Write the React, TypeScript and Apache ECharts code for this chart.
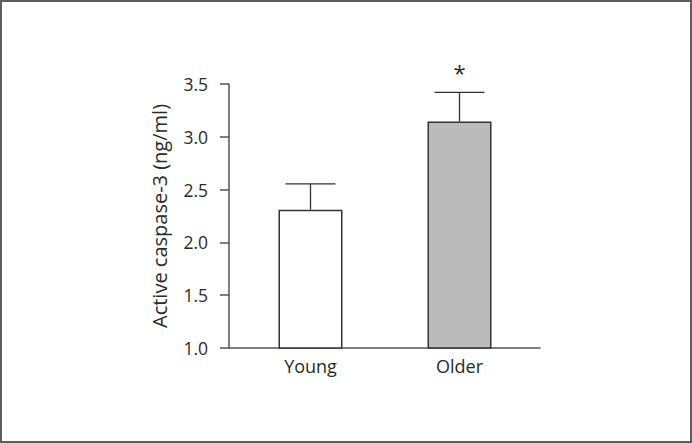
import React, { useEffect, useRef } from "react";
import * as echarts from "echarts";

const categories = ["Young", "Older"];
const means = [2.31, 3.145];
const errorTops = [2.555, 3.42];
const annotations = ["", "*"];
const yTicks = { min: 1.0, max: 3.5, interval: 0.5 };
const barColors = ["#ffffff", "#bbbbbb"];

const FONT = "'Open Sans', 'Noto Sans', sans-serif";

export default function App() {
  const ref = useRef<HTMLDivElement>(null);
  useEffect(() => {
    if (!ref.current) return;
    const chart = echarts.init(ref.current, undefined, { renderer: "svg" });
    const errData = categories.map((_, i) => [i, means[i], errorTops[i]]);
    chart.setOption({
      animation: false,
      backgroundColor: "#ffffff",
      grid: [
        { left: 236, right: 158, top: 84, bottom: 95 },
        { left: 229, right: 152, top: 84, bottom: 95 },
      ],
      xAxis: [
        {
          type: "category",
          gridIndex: 0,
          data: categories,
          axisLine: { show: false },
          axisTick: { show: false },
          axisLabel: {
            color: "#2a2a2a",
            fontSize: 18,
            fontFamily: FONT,
            margin: 9,
          },
        },
        {
          type: "value",
          gridIndex: 1,
          min: 0,
          max: 1,
          axisLine: { show: true, onZero: false, lineStyle: { color: "#555555", width: 1.5 } },
          axisTick: { show: false },
          axisLabel: { show: false },
          splitLine: { show: false },
        },
      ],
      yAxis: [
        {
          type: "value",
          gridIndex: 0,
          min: yTicks.min,
          max: yTicks.max,
          interval: yTicks.interval,
          offset: 7,
          name: "Active caspase-3 (ng/ml)",
          nameLocation: "middle",
          nameGap: 60,
          nameTextStyle: { color: "#2a2a2a", fontSize: 20, fontFamily: FONT },
          axisLine: { show: true, lineStyle: { color: "#555555", width: 1.5 } },
          axisTick: { show: true, length: 9, lineStyle: { color: "#555555", width: 1.5 } },
          axisLabel: {
            color: "#2a2a2a",
            fontSize: 17.5,
            fontFamily: FONT,
            margin: 21,
            formatter: (v: number) => v.toFixed(1),
          },
          splitLine: { show: false },
        },
        {
          type: "value",
          gridIndex: 1,
          min: 0,
          max: 1,
          show: false,
        },
      ],
      series: [
        {
          type: "bar",
          xAxisIndex: 0,
          yAxisIndex: 0,
          barWidth: 64,
          data: means.map((v, i) => ({
            value: v,
            itemStyle: { color: barColors[i], borderColor: "#333333", borderWidth: 1.5 },
          })),
        },
        {
          type: "custom",
          xAxisIndex: 0,
          yAxisIndex: 0,
          data: errData,
          z: 5,
          renderItem: (params: any, api: any) => {
            const idx = api.value(0);
            const base = api.coord([idx, api.value(1)]);
            const top = api.coord([idx, api.value(2)]);
            const half = 25;
            const style = { stroke: "#333333", lineWidth: 1.3 };
            const children: any[] = [
              { type: "line", shape: { x1: base[0], y1: base[1], x2: top[0], y2: top[1] }, style },
              { type: "line", shape: { x1: top[0] - half, y1: top[1], x2: top[0] + half, y2: top[1] }, style },
            ];
            const ann = annotations[params.dataIndex];
            if (ann) {
              children.push({
                type: "text",
                x: top[0],
                y: top[1] - 9,
                style: {
                  text: ann,
                  fill: "#2a2a2a",
                  font: `22px ${FONT}`,
                  textAlign: "center",
                  textVerticalAlign: "bottom",
                },
              });
            }
            return { type: "group", children };
          },
        },
      ],
    });
    return () => chart.dispose();
  }, []);
  return (
    <div style={{ position: "fixed", left: 0, top: 0, width: 692, height: 443, background: "#fff" }}>
      <div ref={ref} style={{ position: "absolute", left: 0, top: 0, width: 692, height: 443 }} />
      <div
        style={{
          position: "absolute",
          left: 0,
          top: 0,
          width: 692,
          height: 443,
          boxSizing: "border-box",
          border: "2px solid #5e5e5e",
          pointerEvents: "none",
          zIndex: 10,
        }}
      />
    </div>
  );
}
